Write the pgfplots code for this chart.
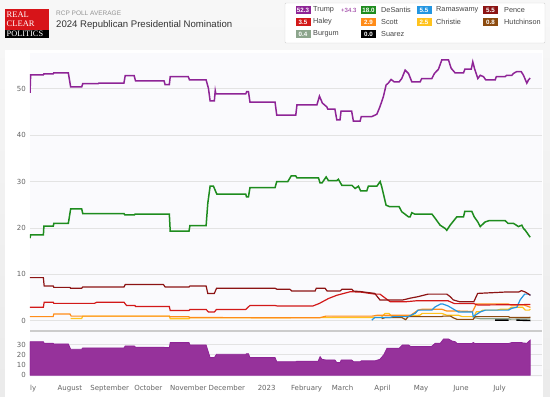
\documentclass[border=0pt]{standalone}
\usepackage{pgfplots}
\pgfplotsset{compat=1.18}
\usepackage{pgfplotstable}
\usepackage{fontspec}
\setmainfont{Liberation Sans}
\newfontfamily\dejavu{DejaVu Sans}
\newfontfamily\lserif{Liberation Serif}
\definecolor{trump}{RGB}{142,36,150}
\definecolor{trumpfill}{RGB}{150,50,155}
\definecolor{desantis}{RGB}{30,140,30}
\definecolor{rama}{RGB}{35,150,225}
\definecolor{pence}{RGB}{140,20,20}
\definecolor{haley}{RGB}{210,25,25}
\definecolor{scott}{RGB}{255,140,25}
\definecolor{christie}{RGB}{255,195,30}
\definecolor{hutch}{RGB}{140,75,15}
\definecolor{burgum}{RGB}{140,165,140}
\definecolor{tickgray}{RGB}{100,100,100}
\definecolor{plotbg}{RGB}{250,250,253}
\definecolor{rcpred}{RGB}{215,20,25}
\definecolor{legtext}{RGB}{70,70,70}

\pgfplotstableread{
x y
0 49.1
0.5 53.0
10.4 53.0
10.8 53.2
18 53.2
18.4 53.4
29.8 53.4
31.6 50.4
40.2 50.4
41 51.1
53 51.1
53.5 51.2
73 51.2
74 52.8
81 52.8
82 51.7
104.2 51.7
105 50.9
108.3 50.9
109 52.6
123 52.6
124 51.9
136.9 51.9
138.7 50.1
140 47.4
143.3 47.4
144 49.6
144.5 48.9
167.7 48.9
168.5 49.4
169.8 49.4
171 47.1
190.5 47.1
191.8 44.3
206.6 44.3
207.5 46.5
223 46.5
225 48.4
227.3 46.9
230.7 46.1
231.5 45.6
237 45.6
238.5 43.3
241 43.3
241.8 45.2
250 45.2
251.4 43.0
256.6 43.0
257.5 44.0
265.7 44.0
269.6 44.5
272 46.1
274.7 48.3
276.8 50.8
278.5 51.2
280.7 52.0
283 51.5
287 51.5
289 52.2
291.6 54.0
294.2 53.3
296.8 51.5
303.3 51.5
304.5 52.2
312.4 52.2
314.4 53.3
317.5 54.2
320.1 56.2
325.3 56.2
327.4 54.4
330.5 53.4
337 53.4
338 54.2
343 54.2
344.2 55.8
345.5 54.4
348.1 52.2
350 52.9
352.5 52.6
354.3 51.9
361.6 51.9
362.5 52.6
369.3 52.6
370.5 52.9
374.6 52.9
375.8 53.3
378.4 53.7
381.8 53.7
383.6 52.9
386.2 51.2
387.5 51.9
388.8 52.3
}\trumpdata

\pgfplotstableread{
x y
0 17.8
0.5 18.5
10.4 18.5
10.8 20.4
18.1 20.4
18.5 21.0
29.8 21.0
31.6 24.1
40.2 24.1
41 23.1
73.1 23.1
73.8 22.8
81.1 22.8
81.8 23.0
108.3 23.0
109 19.3
123.6 19.3
124.3 20.5
136.9 20.5
138.2 25.3
140 29.0
142.6 29.0
145.2 27.3
167.7 27.3
168.3 26.7
169.8 26.7
171 28.7
190.5 28.7
191.8 30.0
200.4 30.0
203 31.2
206.6 31.2
207.5 30.8
224.2 30.8
225.5 29.7
227 29.7
230.2 31.0
232 30.2
238.5 30.2
239.7 30.5
242.4 29.2
250.2 29.2
252.7 28.5
255.3 29.0
257 28.0
261.8 28.0
263 29.0
269.6 29.0
272.2 30.0
273.4 28.9
276.8 24.9
279.5 24.6
286.9 24.6
289 23.5
294.2 22.4
295.5 22.4
296.8 23.3
299 23.0
312.4 23.0
314.9 22.1
318.8 20.6
322.7 19.9
324 19.5
326.6 20.6
331.8 22.4
337 22.4
338 23.6
343.4 23.6
345.3 22.4
348.1 21.3
350 20.3
353.8 21.3
357 21.6
369.3 21.6
371.5 21.0
375.8 21.0
379.7 20.3
382.3 20.6
383.6 19.9
385 19.5
388.8 18.0
}\desantisdata

\pgfplotstableread{
x y
0 9.3
10.4 9.3
11 7.5
18.1 7.5
18.5 7.2
31.1 7.2
31.5 7.0
40.2 7.0
41 7.3
73.1 7.3
74 7.8
103.7 7.8
105 7.3
123.6 7.3
124.3 7.5
136.9 7.5
138.2 5.9
143.3 5.9
145 7.0
190.5 7.0
192 6.8
202 6.8
203.5 6.4
221.6 6.4
222.5 7.0
229.4 7.0
231 6.4
241 6.4
242.5 6.8
250.2 6.8
251.5 6.4
256.6 6.3
268 5.9
272 4.5
290 4.5
296 4.9
301.7 5.2
309.5 5.75
324 5.75
326.6 5.2
329 4.5
334 4.1
345 4.1
348 5.9
370 6.2
380 6.2
382 6.5
385 6.2
389 5.5
}\pencedata

\pgfplotstableread{
x y
0 2.9
10.4 2.9
11 4.0
18.1 4.0
18.5 3.75
50 3.75
52 4.0
73.1 4.0
75 3.3
81.6 3.3
82 3.1
108.3 3.1
109 2.2
123.6 2.2
124.3 2.45
136.9 2.45
138.7 1.9
143.3 1.9
145 2.45
167.7 2.45
169.8 3.0
171 3.3
190.5 3.3
192 3.2
220 3.2
225 3.75
232 4.8
238.5 5.5
248.8 6.25
256.6 6.2
268 5.75
272 5.75
280 4.1
292 4.1
300 4.3
325 4.3
330 3.7
345 3.7
348 3.4
389 3.5
}\haleydata

\pgfplotstableread{
x y
0 0.9
18 0.9
18.5 1.45
31.1 1.45
32 1.0
108.3 1.0
109 0.85
123.6 0.85
124 0.7
225 0.65
230 1.0
266 1.0
270 1.2
296 1.2
301.7 2.3
305 2.5
320 2.5
324 2.1
333 2.1
344 2.0
347 3.6
372 3.6
374 3.4
384 3.4
389 2.9
}\scottdata

\pgfplotstableread{
x y
31.6 0.5
40.2 0.5
41 1.0
108.3 1.0
109 0.45
123.6 0.45
124.3 0.65
273 0.7
276 1.6
279 1.6
281 1.0
294 1.0
303 1.2
305 1.6
320 1.6
324 1.2
333 1.2
336 0.9
345 0.9
347 1.95
350 1.95
352 2.3
363 2.3
366 2.5
372 2.5
374 2.9
383 2.9
385 2.3
388 2.3
389 2.5
}\christiedata

\pgfplotstableread{
x y
265.7 0.15
268 0.7
280 0.7
282 0.9
294 0.9
299.4 1.6
301.7 2.3
312.4 2.3
315 3.0
319 3.6
321 3.6
325 3.2
330.5 2.3
333 1.9
344 1.9
344.5 0.9
350 1.9
354 2.3
372 2.3
374.6 2.7
378.4 2.9
381 4.5
384.5 5.75
387.5 5.75
389 5.5
}\ramadata

\pgfplotstableread{
x y
273.4 0.45
276 0.7
289 0.7
292 0.25
294 0.9
320 0.9
321 1.0
327 1.0
329 0.65
332 0.3
344.5 0.3
346 0.9
372 0.9
373 0.7
388 0.7
389 0.8
}\hutchdata

\pgfplotstableread{
x y
344.7 0.7
350 0.45
372 0.45
373 0.35
389 0.4
}\burgumdata

\pgfplotstableread{
x y
361.6 0.15
372 0.15
373 nan
378 0.15
389 0.05
}\suarezdata

\pgfplotstableread{
x y
0 32.8
10.4 32.8
11 31.3
18 31.3
18.5 30.6
29.8 30.6
31.6 25.4
40.2 25.4
41 26.7
73.1 26.7
74 28.6
81.1 28.6
82 27.4
104 27.4
105 27.0
108.3 27.0
109 31.9
123.6 31.9
124.3 29.6
136.9 29.6
140 17.2
143.3 17.2
145 20.5
167.7 20.5
168.3 21.0
169.8 21.0
171 17.2
190.5 17.2
191.8 13.2
206.6 13.2
207.5 13.7
224 13.7
225.5 18.1
227 15.5
230 14.9
237 14.9
238.5 12.3
241 12.3
242 14.9
250 14.9
251.5 13.2
256.6 13.2
257.5 14.0
268 14.0
272 15.5
275 20
277.5 26.4
287 26.4
289.5 29.6
294.2 29.6
296 28.0
312 28.0
315 31.3
319 31.3
321.5 35.5
325.3 35.5
328 33.5
330.5 32.8
332 31.0
343.5 31.0
344.5 32.0
346 31.0
372 31.0
374.6 32.0
381.8 32.0
383.6 31.5
386.2 31.3
388.8 34.3
}\spreaddata

\newcommand{\sw}[4]{\node[fill=#1, text=white, font=\fontsize{6.2}{7}\selectfont\bfseries, minimum width=15pt, minimum height=8.5pt, inner sep=0pt] at (#2,#3) {#4};}
\newcommand{\lt}[3]{\node[anchor=west, font=\fontsize{7.3}{8}\selectfont, text=legtext, inner sep=0pt] at (#1,#2) {#3};}

\begin{document}
\begin{tikzpicture}[x=1pt,y=1pt]
\useasboundingbox (0,0) rectangle (550,397);
\shade[top color=gray!6, bottom color=gray!16] (0,0) rectangle (550,397);
\fill[white] (5,0) rectangle (543,347);
\fill[plotbg] (30,20) rectangle (542,344);

% logo
\fill[rcpred] (5,367) rectangle (49,388);
\fill[black] (5,359) rectangle (49,367);
\node[anchor=base west, inner sep=0pt, text=white, font=\lserif\fontsize{8.5}{9}\selectfont] at (6.5,379) {REAL};
\node[anchor=base west, inner sep=0pt, text=white, font=\lserif\fontsize{8.5}{9}\selectfont] at (6.5,370) {CLEAR};
\node[anchor=base west, inner sep=0pt, text=white, font=\lserif\fontsize{8.3}{9}\selectfont] at (6.5,360.5) {POLITICS};
\node[anchor=west, inner sep=0pt, text=gray!85, font=\fontsize{6.5}{7}\selectfont] at (56,384) {RCP POLL AVERAGE};
\node[anchor=west, inner sep=0pt, text=black!80, font=\fontsize{9.6}{11}\selectfont] at (56,372) {2024 Republican Presidential Nomination};

% legend
\draw[gray!35, fill=white, rounded corners=1pt] (285,354) rectangle (545,394);
\sw{trump}{303}{387}{52.3}\lt{313}{387}{Trump}
\node[anchor=west, inner sep=0pt, text=trump, font=\fontsize{6}{7}\selectfont] at (341,387) {+34.3};
\sw{desantis}{368.5}{387}{18.0}\lt{381}{387}{DeSantis}
\sw{rama}{424}{387}{5.5}\lt{436}{387}{Ramaswamy}
\sw{pence}{490.5}{387}{5.5}\lt{504}{387}{Pence}
\sw{haley}{303}{375}{3.5}\lt{313}{375}{Haley}
\sw{scott}{368.5}{375}{2.9}\lt{381}{375}{Scott}
\sw{christie}{424}{375}{2.5}\lt{436}{375}{Christie}
\sw{hutch}{490.5}{375}{0.8}\lt{504}{375}{Hutchinson}
\sw{burgum}{303}{363}{0.4}\lt{313}{363}{Burgum}
\sw{black}{368.5}{363}{0.0}\lt{381}{363}{Suarez}

\begin{axis}[
  at={(30pt,66pt)}, anchor=south west, scale only axis,
  width=512pt, height=278pt,
  xmin=0, xmax=398, ymin=-2.2, ymax=57.7,
  axis line style={draw=none}, major tick length=0pt,
  xtick=\empty, ytick={0,10,20,30,40,50},
  ymajorgrids, grid style={gray!22, line width=0.7pt},
  /pgf/number format/assume math mode=true,
  yticklabel style={font=\dejavu\fontsize{7}{8}\selectfont, text=tickgray, anchor=east, inner sep=0pt, xshift=-4pt},
  clip=true,
]
\addplot[christie, line width=1.2pt] table {\christiedata};
\addplot[scott, line width=1.2pt] table {\scottdata};
\addplot[burgum, line width=1.2pt] table {\burgumdata};
\addplot[hutch, line width=1.2pt] table {\hutchdata};
\addplot[black, line width=1.4pt, unbounded coords=jump] table {\suarezdata};
\addplot[rama, line width=1.2pt] table {\ramadata};
\addplot[haley, line width=1.2pt] table {\haleydata};
\addplot[pence, line width=1.2pt] table {\pencedata};
\addplot[desantis, line width=1.5pt] table {\desantisdata};
\addplot[trump, line width=1.5pt] table {\trumpdata};
\end{axis}

\draw[gray!40, line width=1.6pt] (30,66) -- (542,66);

\begin{axis}[
  at={(30pt,20pt)}, anchor=south west, scale only axis,
  width=512pt, height=46pt,
  xmin=0, xmax=398, ymin=-1.8, ymax=43.3,
  axis line style={draw=none}, major tick length=0pt,
  ytick={0,10,20,30},
  xtick={0,31,62,92,123,153,184,215,243,274,304,335,365},
  xticklabels={\hphantom{Ju}ly,August,September,October,November,December,2023,February,March,April,May,June,July},
  ymajorgrids, grid style={gray!22, line width=0.7pt},
  /pgf/number format/assume math mode=true,
  yticklabel style={font=\dejavu\fontsize{7}{8}\selectfont, text=tickgray, anchor=east, inner sep=0pt, xshift=-4pt},
  xticklabel style={font=\dejavu\fontsize{7}{8}\selectfont, text=tickgray, anchor=base, inner sep=0pt, yshift=-13.5pt},
]
\addplot[trump, fill=trumpfill, line width=0.8pt] table {\spreaddata} \closedcycle;
\end{axis}
\end{tikzpicture}
\end{document}
